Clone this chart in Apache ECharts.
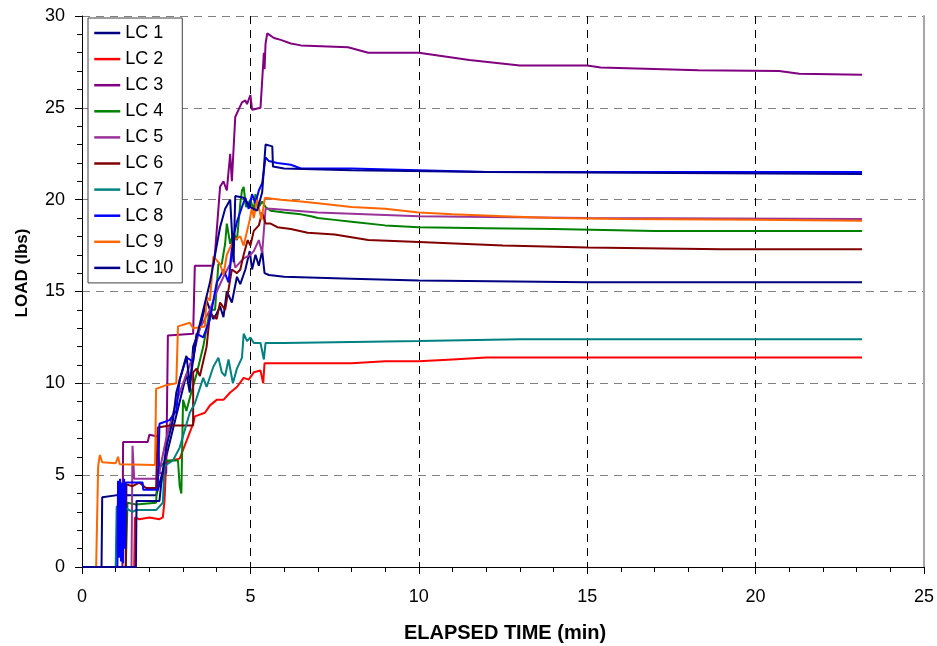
<!DOCTYPE html>
<html>
<head>
<meta charset="utf-8">
<script src="https://cdn.jsdelivr.net/npm/echarts@6/dist/echarts.min.js"></script>
<style>
html,body{margin:0;padding:0;background:#fff;}
#chart{width:937px;height:646px;}
</style>
</head>
<body>
<div id="chart"></div>
<script>
// ---- Data (time in min, load in lbs) ----
var seriesNames = ['LC 1','LC 2','LC 3','LC 4','LC 5','LC 6','LC 7','LC 8','LC 9','LC 10'];
var seriesColors = ['#000080','#FF0000','#800080','#008000','#993399','#800000','#008080','#0000FF','#FF6600','#00008B'];

var lc1 = [[0,0],[0.58,0],[0.6,3.8],[1.0,3.9],[1.5,3.9],[2.2,3.9],[2.3,4.5],[2.5,6],[2.7,7.5],[2.9,9],[3.1,10.5],[3.2,9.5],[3.3,12],[3.5,13],[3.7,14.5],[3.9,13.5],[4.0,13.8],[4.1,14.2],[4.2,13.6],[4.3,15.0],[4.45,14.4],[4.6,15.8],[4.7,15.4],[4.85,16.2],[4.98,17.2],[5.05,16.2],[5.15,17.0],[5.25,16.4],[5.35,17.2],[5.42,16.0],[5.55,15.9],[5.6,15.8],[6,15.8],[8,15.7],[10,15.6],[15,15.5],[23.16,15.5]];
var lc2 = [[0,0],[1.55,0],[1.57,2.7],[1.7,2.6],[2.0,2.7],[2.3,2.6],[2.4,2.7],[2.45,3.6],[2.5,5.7],[2.65,5.8],[2.9,5.9],[3.3,7.8],[3.35,8.2],[3.65,8.4],[3.8,8.8],[4.0,9.1],[4.2,9.1],[4.4,9.5],[4.6,9.8],[4.8,10.3],[4.95,10.2],[5.1,10.6],[5.3,10.7],[5.38,10.0],[5.42,11.1],[6,11.1],[8,11.1],[9,11.2],[10,11.2],[11,11.3],[12,11.4],[15,11.4],[23.16,11.4]];
var lc3 = [[0,0],[1.2,0],[1.22,6.8],[1.6,6.8],[1.95,6.8],[2.0,7.2],[2.25,7.1],[2.3,5.1],[2.5,5.1],[2.55,12.6],[3.3,12.7],[3.35,16.4],[3.9,16.4],[3.95,17.1],[4.1,20.7],[4.2,21.0],[4.3,20.5],[4.4,22.5],[4.45,21.0],[4.55,24.5],[4.65,24.9],[4.75,25.3],[4.85,25.4],[4.9,25.2],[5.0,25.7],[5.05,24.9],[5.3,25.0],[5.35,26.5],[5.4,28.0],[5.42,27.1],[5.45,28.5],[5.5,29.05],[5.7,28.8],[5.9,28.7],[6.2,28.5],[6.5,28.4],[7.9,28.3],[8.5,28.0],[10,28.0],[11.5,27.6],[13,27.3],[15,27.3],[15.4,27.2],[18.3,27.05],[20.7,27.0],[21.3,26.85],[23.16,26.8]];
var lc4 = [[0,0],[1.3,0],[1.35,3.5],[1.6,3.4],[2.2,3.5],[2.25,5.3],[2.5,5.8],[2.85,5.8],[2.9,4.4],[2.95,4.0],[3.0,9.1],[3.1,8.5],[3.2,9.2],[3.4,10.5],[3.6,12.0],[3.8,14.0],[3.95,14.0],[4.05,16.5],[4.15,16.5],[4.25,17.6],[4.3,18.7],[4.4,17.6],[4.5,18.2],[4.6,17.8],[4.7,19.8],[4.75,20.5],[4.8,20.7],[4.87,19.6],[5.0,20.0],[5.1,19.4],[5.15,20.3],[5.25,19.6],[5.35,19.9],[5.45,19.6],[5.6,19.4],[6.0,19.3],[6.5,19.2],[6.8,19.1],[7.0,19.0],[7.5,18.9],[8,18.8],[9,18.6],[10,18.5],[12,18.45],[14,18.4],[17,18.3],[23.16,18.3]];
var lc5 = [[0,0],[1.47,0],[1.5,6.6],[1.55,4.8],[2.2,4.8],[2.3,5.2],[2.5,7.0],[2.8,9.0],[3.0,10.0],[3.3,11.5],[3.5,13.0],[3.8,14.0],[4.0,15.0],[4.2,15.8],[4.4,16.5],[4.45,17.4],[4.55,16.3],[4.8,16.8],[5.0,17.0],[5.1,17.2],[5.25,17.8],[5.35,17.1],[5.45,19.5],[5.6,19.5],[7,19.3],[10,19.1],[15,19.0],[23.16,18.95]];
var lc6 = [[0,0],[1.3,0],[1.32,4.5],[1.5,4.4],[1.7,4.6],[1.9,4.3],[2.2,4.3],[2.25,7.6],[2.6,7.7],[3.3,7.7],[3.3,10.6],[3.4,10.8],[3.5,10.4],[3.7,12.0],[3.8,13.8],[4.0,13.5],[4.1,14.4],[4.25,14.0],[4.45,16.2],[4.6,16.0],[4.7,16.2],[4.8,17.0],[4.92,17.8],[5.0,17.5],[5.1,18.3],[5.25,18.6],[5.35,19.3],[5.45,18.7],[5.6,18.7],[5.8,18.5],[6.2,18.4],[6.7,18.2],[7.5,18.1],[8.5,17.8],[10,17.7],[12.5,17.5],[15,17.4],[19,17.3],[23.16,17.3]];
var lc7 = [[0,0],[1.0,0],[1.03,3.3],[1.3,3.2],[1.5,3.0],[1.6,3.1],[2.2,3.1],[2.4,3.5],[2.45,5.5],[2.7,5.8],[2.9,6.5],[3.2,8.4],[3.35,8.9],[3.6,10.3],[3.7,9.8],[3.9,10.9],[4.05,11.4],[4.15,10.6],[4.25,10.4],[4.35,11.3],[4.48,10.0],[4.6,10.8],[4.75,11.4],[4.8,12.7],[4.9,12.3],[5.0,12.5],[5.1,12.2],[5.3,12.2],[5.4,11.3],[5.45,12.2],[6,12.2],[10,12.3],[13,12.4],[23.16,12.4]];
var lc8 = [[0,0],[1.05,0],[1.07,4.7],[1.1,0.5],[1.13,4.8],[1.16,0.3],[1.19,4.6],[1.22,0.2],[1.25,4.8],[1.28,1.0],[1.3,4.6],[1.8,4.6],[1.82,4.2],[2.25,4.2],[2.3,7.8],[2.6,8.0],[2.8,8.5],[2.9,10.2],[3.1,11.4],[3.3,11.2],[3.4,12.7],[3.6,12.5],[3.8,13.5],[4.0,15.5],[4.1,15.8],[4.2,16.2],[4.35,15.5],[4.5,18.0],[4.6,18.8],[4.75,19.6],[4.85,20.1],[4.95,19.5],[5.05,20.3],[5.15,19.8],[5.25,20.5],[5.35,20.9],[5.4,21.6],[5.45,22.3],[5.55,22.1],[5.8,22.0],[6.2,21.9],[6.5,21.7],[8,21.7],[10,21.6],[12,21.5],[15,21.5],[23.16,21.5]];
var lc9 = [[0,0],[0.42,0],[0.48,5.5],[0.53,6.1],[0.6,5.7],[1.0,5.65],[1.07,6.0],[1.12,5.6],[2.17,5.55],[2.2,9.7],[2.5,9.9],[2.8,10.0],[2.85,13.1],[3.2,13.3],[3.3,13.0],[3.65,13.1],[3.7,14.7],[3.8,14.5],[3.9,16.9],[4.1,16.5],[4.2,15.9],[4.3,17.0],[4.5,17.8],[4.7,18.0],[4.8,17.5],[4.98,18.9],[5.05,19.6],[5.1,19.0],[5.2,20.0],[5.33,18.9],[5.43,20.1],[5.9,20.0],[6.5,19.9],[7,19.8],[8,19.6],[9,19.5],[10,19.3],[11,19.2],[12.5,19.1],[14,19.0],[16,18.95],[20,18.9],[23.16,18.85]];
var lc10 = [[0,0],[1.6,0],[1.62,3.6],[2.3,3.6],[2.35,4.5],[2.5,6.5],[2.7,8.0],[2.8,9.5],[2.95,10.5],[3.1,11.5],[3.2,10.0],[3.4,12.5],[3.6,14.0],[3.8,15.5],[3.95,17.0],[4.1,18.5],[4.25,19.5],[4.4,20.0],[4.5,16.6],[4.55,20.2],[4.8,20.1],[5.0,19.6],[5.2,19.4],[5.35,20.4],[5.45,23.0],[5.65,22.9],[5.67,21.8],[6,21.7],[8,21.6],[12,21.5],[23.16,21.4]];

var seriesData = [lc1,lc2,lc3,lc4,lc5,lc6,lc7,lc8,lc9,lc10];

var xTicks = {min:0, max:25, interval:5};
var yTicks = {min:0, max:30, interval:5};

var FONT = '"Liberation Sans", Arial, sans-serif';

var chart = echarts.init(document.getElementById('chart'), null, {renderer:'canvas'});

var series = seriesNames.map(function(n,i){
  return {
    name:n, type:'line', data:seriesData[i], symbol:'none', showSymbol:false,
    lineStyle:{width:2, color:seriesColors[i]}, itemStyle:{color:seriesColors[i]},
    yAxisIndex:0, animation:false
  };
});

chart.setOption({
  animation:false,
  backgroundColor:'#fff',
  grid:{left:82, right:12, top:16, bottom:79, containLabel:false},
  xAxis:{
    type:'value', min:xTicks.min, max:xTicks.max, interval:xTicks.interval,
    axisLine:{show:true, onZero:false, lineStyle:{color:'#000', width:1}},
    axisTick:{show:true, length:7, lineStyle:{color:'#000'}},
    minorTick:{show:true, splitNumber:5, length:5, lineStyle:{color:'#000'}},
    axisLabel:{fontSize:18, color:'#000', fontFamily:FONT, margin:21},
    splitLine:{show:true, showMinLine:false, showMaxLine:false, lineStyle:{color:'#000', type:[8,6], width:1}}
  },
  yAxis:[{
    type:'value', min:yTicks.min, max:yTicks.max, interval:yTicks.interval,
    axisLine:{show:true, lineStyle:{color:'#000', width:1}},
    axisTick:{show:true, length:7, lineStyle:{color:'#000'}},
    minorTick:{show:true, splitNumber:5, length:5, lineStyle:{color:'#000'}},
    axisLabel:{fontSize:18, color:'#000', fontFamily:FONT, margin:17},
    splitLine:{show:true, showMinLine:false, showMaxLine:true, lineStyle:{color:'#808080', type:[8,6], width:1}}
  },{
    type:'value', position:'right', min:yTicks.min, max:yTicks.max, interval:yTicks.interval,
    axisLine:{show:true, lineStyle:{color:'#a6a6a6', width:2}},
    axisTick:{show:false}, axisLabel:{show:false}, splitLine:{show:false}
  }],
  legend:{
    orient:'vertical', left:88, top:18,
    data:seriesNames,
    backgroundColor:'#fff', borderColor:'#404040', borderWidth:1,
    padding:[6,9,6,5],
    itemWidth:26, itemHeight:16, itemGap:8.1,
    itemStyle:{opacity:0},
    lineStyle:{width:2.5},
    textStyle:{fontSize:18, color:'#000', fontFamily:FONT, lineHeight:16},
    selectedMode:false
  },
  graphic:[
    {type:'text', x:505, y:633, style:{text:'ELAPSED TIME (min)', font:'bold 20px '+FONT, fill:'#000', textAlign:'center', textVerticalAlign:'middle'}},
    {type:'text', x:22, y:273, rotation:Math.PI/2, style:{text:'LOAD (lbs)', font:'bold 17px '+FONT, fill:'#000', textAlign:'center', textVerticalAlign:'middle'}}
  ],
  series:series
});
</script>
</body>
</html>
